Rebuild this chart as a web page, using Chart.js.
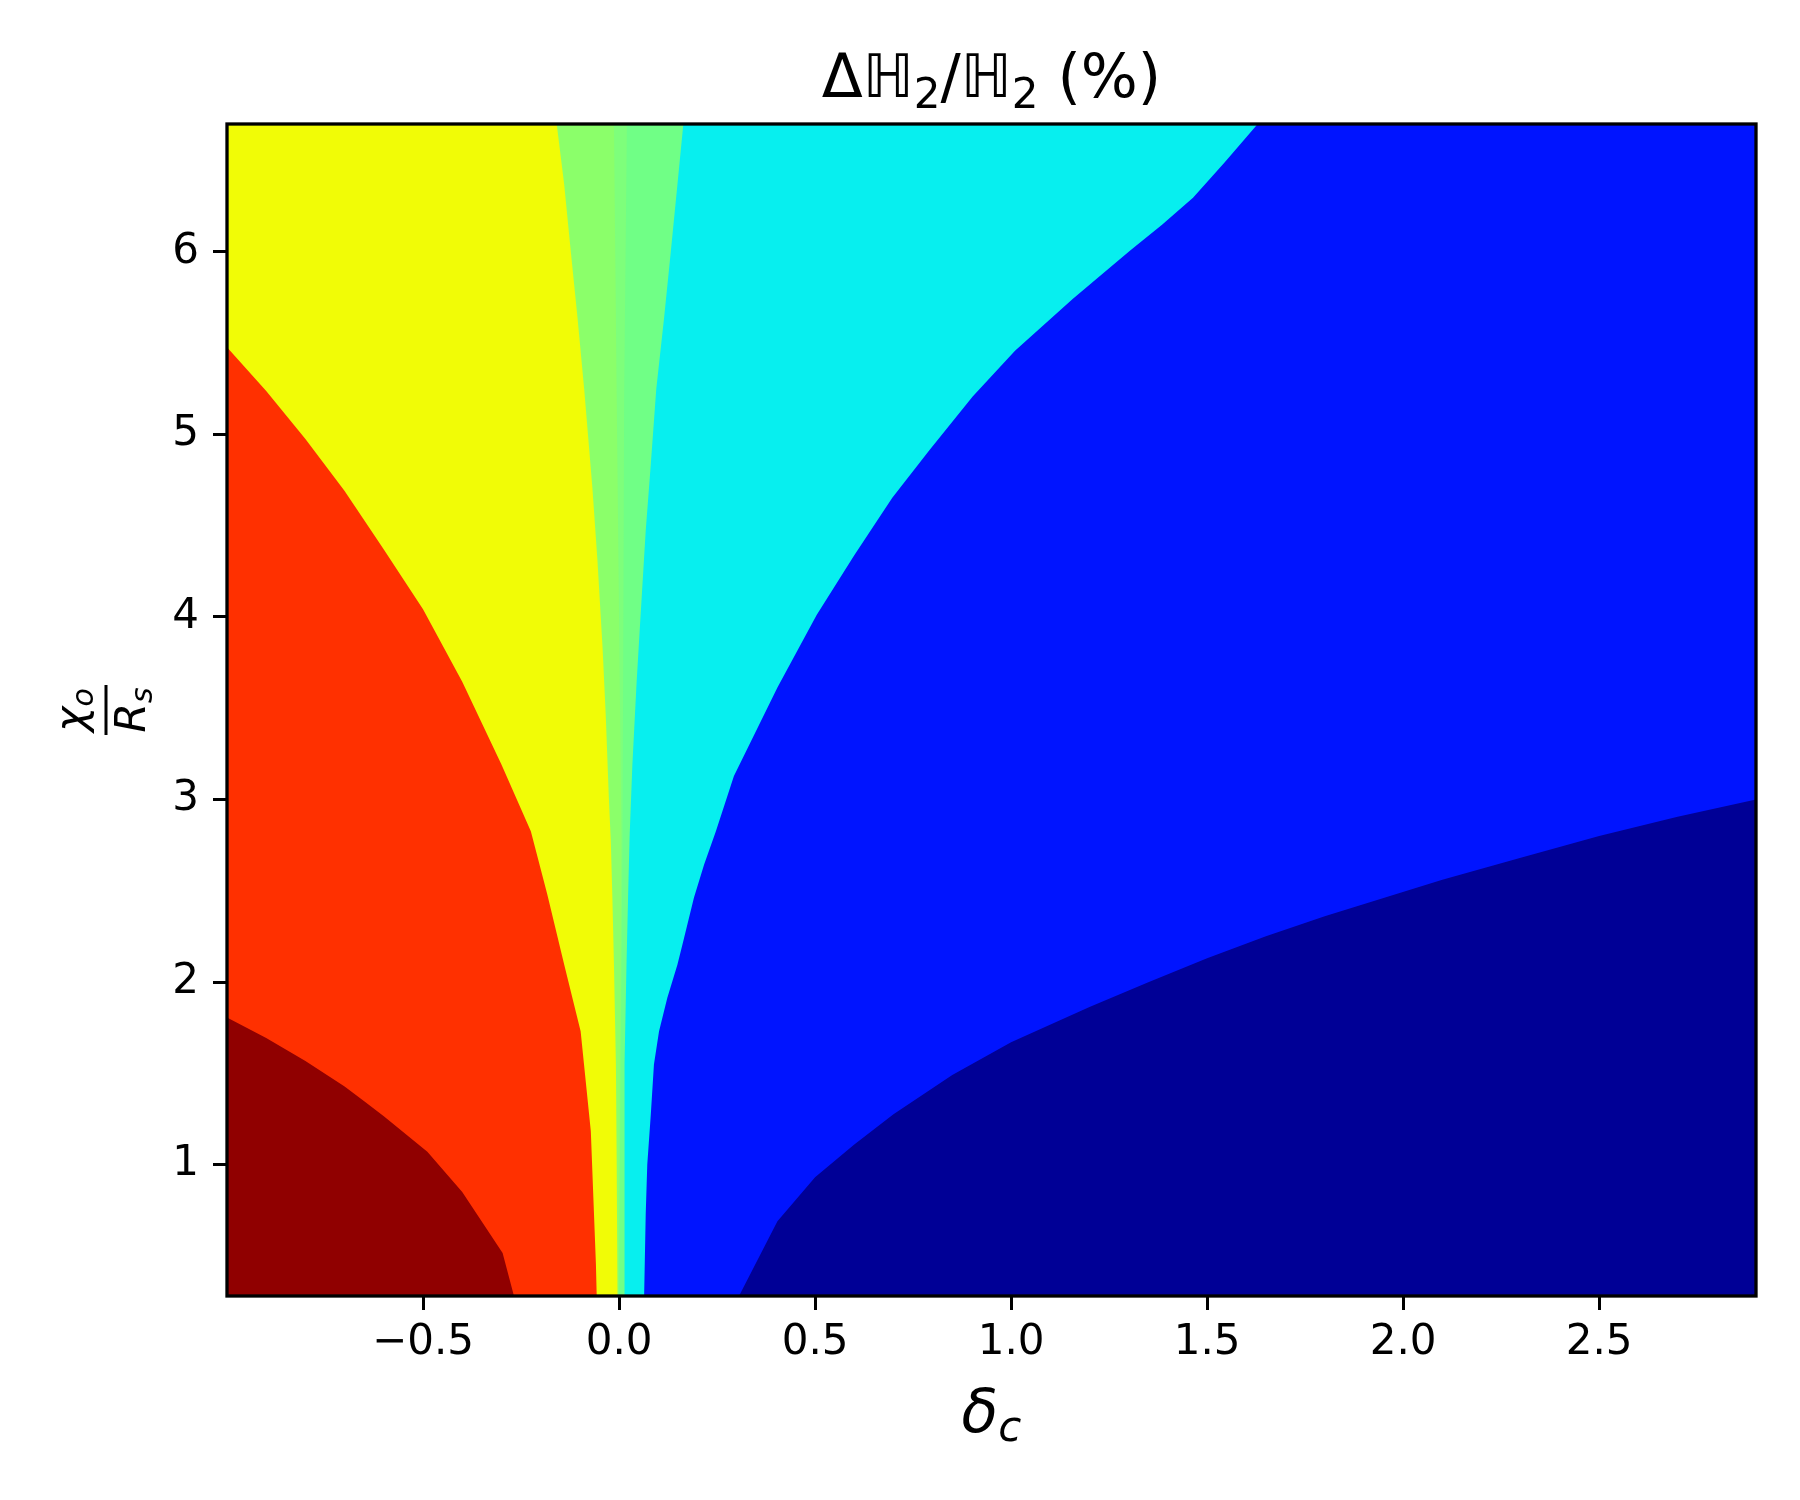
<!DOCTYPE html>
<html>
<head>
<meta charset="utf-8">
<title>ΔH2/H2 (%)</title>
<script src="https://cdn.jsdelivr.net/npm/chart.js@4.4.1/dist/chart.umd.min.js"></script>
<style>
    html, body { margin: 0; padding: 0; background: #fff; }
    #wrap { width: 1800px; height: 1500px; }
</style>
</head>
<body>
<div id="wrap"><canvas id="contour" width="1800" height="1500"></canvas></div>
<script>
// Axis range and ticks
const xLimits = [-1.0, 2.9];
const yLimits = [0.28, 6.7];
const xTicks = [-0.5, 0.0, 0.5, 1.0, 1.5, 2.0, 2.5];
const yTicks = [1, 2, 3, 4, 5, 6];

// Contour edges, each one from the bottom edge upward.
// navy | blue
const navyEdgeX = [0.306, 0.404, 0.50, 0.60, 0.70, 0.85, 1.0, 1.2, 1.35, 1.5, 1.65, 1.8, 1.95, 2.1, 2.3, 2.5, 2.7, 2.9];
const navyEdgeY = [0.28, 0.69, 0.93, 1.11, 1.275, 1.49, 1.67, 1.863, 1.998, 2.13, 2.25, 2.36, 2.46, 2.56, 2.68, 2.80, 2.905, 3.0];
// blue | cyan
const blueEdgeX = [0.064, 0.068, 0.072, 0.081, 0.089, 0.102, 0.123, 0.149, 0.166, 0.191, 0.217, 0.247,
    0.293, 0.404, 0.504, 0.600, 0.697, 0.791, 0.902, 1.010, 1.157, 1.303, 1.385, 1.464, 1.545, 1.629];
const blueEdgeY = [0.28, 0.726, 1.0, 1.274, 1.548, 1.73, 1.913, 2.096, 2.242, 2.461, 2.644, 2.826,
    3.128, 3.613, 4.01, 4.338, 4.652, 4.911, 5.207, 5.458, 5.742, 6.006, 6.148, 6.296, 6.49, 6.7];
// cyan | green
const greenEdgeX = [0.013, 0.013, 0.015, 0.019, 0.023, 0.027, 0.034, 0.045, 0.055, 0.068, 0.081, 0.095, 0.115, 0.132, 0.149, 0.164];
const greenEdgeY = [0.28, 1.0, 1.55, 2.096, 2.46, 2.8, 3.19, 3.65, 4.01, 4.47, 4.836, 5.25, 5.64, 6.0, 6.37, 6.7];
// thin middle strip inside the green band
const stripRightX = [0.0, 0.004, 0.009, 0.013, 0.020];
const stripRightY = [0.28, 1.5, 2.8, 5.2, 6.7];
const stripLeftX = [-0.002, 0.002, 0.006, -0.006, -0.013];
const stripLeftY = [0.28, 1.5, 2.8, 5.2, 6.7];
// green | yellow
const yellowEdgeX = [-0.004, -0.006, -0.008, -0.013, -0.017, -0.021, -0.026, -0.034, -0.042, -0.055, -0.068, -0.089, -0.106, -0.123, -0.140, -0.159];
const yellowEdgeY = [0.28, 1.0, 1.55, 2.096, 2.461, 2.77, 3.009, 3.466, 3.83, 4.306, 4.707, 5.25, 5.64, 6.0, 6.37, 6.7];
// yellow | red
const redEdgeX = [-0.057, -0.059, -0.072, -0.098, -0.14, -0.183, -0.225, -0.3, -0.4, -0.5, -0.6, -0.7, -0.8, -0.9, -1.0];
const redEdgeY = [0.28, 0.454, 1.182, 1.73, 2.096, 2.479, 2.826, 3.191, 3.645, 4.042, 4.369, 4.69, 4.974, 5.238, 5.477];
// red | dark red
const darkRedEdgeX = [-0.268, -0.297, -0.4, -0.489, -0.6, -0.65, -0.7, -0.8, -0.9, -1.0];
const darkRedEdgeY = [0.28, 0.516, 0.85, 1.07, 1.264, 1.347, 1.428, 1.567, 1.693, 1.806];

// Fill colours (jet), lowest level first
const levelColors = ['#000096', '#0014ff', '#07efef', '#70ff86', '#7eff7b', '#8bff6a', '#f1fc06', '#ff3000', '#900000'];

const [X_MIN, X_MAX] = xLimits;
const [Y_MIN, Y_MAX] = yLimits;

// Polygon of everything left of an edge, closed along the plot border
function leftOf(xs, ys) {
    const pts = xs.map((x, i) => ({x: x, y: ys[i]}));
    const last = pts[pts.length - 1];
    if (last.x >= X_MAX) pts.push({x: X_MAX, y: Y_MAX});
    if (last.x > X_MIN) pts.push({x: X_MIN, y: Y_MAX});
    pts.push({x: X_MIN, y: Y_MIN});
    pts.push(pts[0]);
    return pts;
}

const regions = [
    [{x: X_MIN, y: Y_MIN}, {x: X_MAX, y: Y_MIN}, {x: X_MAX, y: Y_MAX}, {x: X_MIN, y: Y_MAX}, {x: X_MIN, y: Y_MIN}],
    leftOf(navyEdgeX, navyEdgeY),
    leftOf(blueEdgeX, blueEdgeY),
    leftOf(greenEdgeX, greenEdgeY),
    leftOf(stripRightX, stripRightY),
    leftOf(stripLeftX, stripLeftY),
    leftOf(yellowEdgeX, yellowEdgeY),
    leftOf(redEdgeX, redEdgeY),
    leftOf(darkRedEdgeX, darkRedEdgeY)
];

// later regions sit on top (lower order is drawn last)
const datasets = regions.map((pts, i) => ({
    data: pts,
    fill: 'shape',
    backgroundColor: levelColors[i],
    borderColor: 'rgba(0,0,0,0)',
    borderWidth: 0,
    pointRadius: 0,
    pointHoverRadius: 0,
    tension: 0,
    order: regions.length - i
}));

// Text pieces for the math labels
const titleRuns = [
    {text: 'Δ', font: '60px "DejaVu Sans"'},
    {text: 'ℍ', font: 'italic 60px "DejaVu Sans"'},
    {text: '2', font: '42px "DejaVu Sans"', dy: 11},
    {text: '/', font: '60px "DejaVu Sans"'},
    {text: 'ℍ', font: 'italic 60px "DejaVu Sans"'},
    {text: '2', font: '42px "DejaVu Sans"', dy: 11},
    {text: ' (%)', font: '60px "DejaVu Sans"'}
];
const xLabelRuns = [
    {text: 'δ', font: 'italic 60px "DejaVu Sans"'},
    {text: 'c', font: 'italic 42px "DejaVu Sans"', dy: 9}
];
const yNumRuns = [
    {text: 'χ', font: 'italic 43px "DejaVu Sans"'},
    {text: 'o', font: 'italic 30px "DejaVu Sans"', dy: 8}
];
const yDenRuns = [
    {text: 'R', font: 'italic 43px "DejaVu Sans"'},
    {text: 's', font: 'italic 30px "DejaVu Sans"', dy: 7}
];

function drawRuns(ctx, runs, cx, baseline) {
    let width = 0;
    for (const r of runs) {
        ctx.font = r.font;
        width += ctx.measureText(r.text).width;
    }
    let x = cx - width / 2;
    for (const r of runs) {
        ctx.font = r.font;
        ctx.fillText(r.text, x, baseline + (r.dy || 0));
        x += ctx.measureText(r.text).width;
    }
}

const mathLabels = {
    id: 'mathLabels',
    afterDraw(chart) {
        const ctx = chart.ctx;
        const a = chart.chartArea;
        const midX = (a.left + a.right) / 2;
        const midY = (a.top + a.bottom) / 2;
        ctx.save();
        // frame
        ctx.strokeStyle = '#000';
        ctx.lineWidth = 3.3;
        ctx.strokeRect(a.left, a.top, a.right - a.left, a.bottom - a.top);

        ctx.fillStyle = '#000';
        ctx.textAlign = 'left';
        ctx.textBaseline = 'alphabetic';
        drawRuns(ctx, titleRuns, midX, a.top - 27);
        drawRuns(ctx, xLabelRuns, midX, a.bottom + 136);

        // y label: fraction, rotated
        ctx.translate(a.left - 121, midY);
        ctx.rotate(-Math.PI / 2);
        ctx.fillRect(-25, -1.5, 50, 3);
        drawRuns(ctx, yNumRuns, 0, -21);
        drawRuns(ctx, yDenRuns, 0, 39);
        ctx.restore();
    }
};

function formatX(v) {
    const s = Math.abs(v).toFixed(1);
    return v < 0 ? '\u2212' + s : s;
}

const tickFont = {family: 'DejaVu Sans', size: 42};
const tickGrid = {
    display: true,
    drawOnChartArea: false,
    drawTicks: true,
    tickLength: 14,
    tickWidth: 3,
    tickColor: '#000'
};

document.addEventListener('DOMContentLoaded', () => {
    const ctx = document.getElementById('contour').getContext('2d');
    new Chart(ctx, {
        type: 'line',
        data: {datasets: datasets},
        options: {
            responsive: false,
            animation: false,
            events: [],
            layout: {padding: {top: 124, right: 44, bottom: 0, left: 0}},
            plugins: {
                legend: {display: false},
                tooltip: {enabled: false},
                title: {display: false}
            },
            scales: {
                x: {
                    type: 'linear',
                    min: X_MIN,
                    max: X_MAX,
                    grid: tickGrid,
                    border: {display: false},
                    afterBuildTicks: (scale) => { scale.ticks = xTicks.map(v => ({value: v})); },
                    afterFit: (scale) => { scale.height = 204; },
                    ticks: {
                        autoSkip: false,
                        maxRotation: 0,
                        padding: 8,
                        color: '#000',
                        font: tickFont,
                        callback: (v) => formatX(v)
                    }
                },
                y: {
                    type: 'linear',
                    min: Y_MIN,
                    max: Y_MAX,
                    grid: tickGrid,
                    border: {display: false},
                    afterBuildTicks: (scale) => { scale.ticks = yTicks.map(v => ({value: v})); },
                    afterFit: (scale) => { scale.width = 227; },
                    ticks: {
                        autoSkip: false,
                        padding: 14,
                        color: '#000',
                        font: tickFont,
                        callback: (v) => String(v)
                    }
                }
            }
        },
        plugins: [mathLabels]
    });
});
</script>
</body>
</html>
